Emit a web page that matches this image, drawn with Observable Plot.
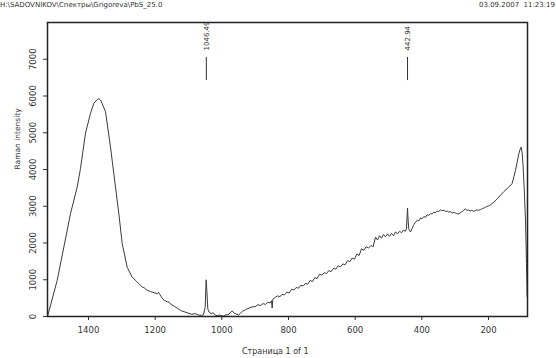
<!DOCTYPE html>
<html><head><meta charset="utf-8">
<script src="https://cdn.jsdelivr.net/npm/d3@7"></script>
<script src="https://cdn.jsdelivr.net/npm/@observablehq/plot@0.6"></script>
<style>
body{margin:0;background:#fff;}
#wrap{position:relative;width:556px;height:358px;overflow:hidden;font-family:"DejaVu Sans",sans-serif;color:#333;}
.t{position:absolute;line-height:1;white-space:nowrap;}
</style></head><body>
<div id="wrap">
<div id="chart" style="position:absolute;left:0;top:0"></div>
<div class="t" style="left:0;top:2px;font-size:7px;">H:\SADOVNIKOV\Спектры\Grigoreva\PbS_25.0</div>
<div class="t" style="right:1px;top:2px;font-size:7px;">03.09.2007&nbsp;&nbsp;11:23:19</div>
<div class="t" style="left:242px;top:348px;font-size:8px;">Страница 1 of 1</div>
</div>
<script>
const wavenumber = [1523,1494,1464,1454,1434,1424,1409,1394,1384,1374,1369,1364,1357,1349,1334,1319,1309,1299,1284,1269,
  1256,1250,1244,1238,1232,1226,1220,1214,1208,1200,1194,1190,1186,1182,1176,1170,1164,1158,1152,1146,1140,1134,1128,1120,1110,1100,1090,1080,1070,1060,
  1055,1050,1047,1045,1042,1038,1032,1026,1020,1014,1008,1000,994,988,982,975,969,963,957,950,944,938,932,926,918,910,
  900,892,884,876,869,862,855,851,849,847,840,833,826,819,812,805,798,791,784,777,770,763,756,749,742,735,728,721,714,707,700,
  693,686,679,672,665,658,651,644,637,630,623,616,609,602,595,588,581,574,567,560,553,546,539,533,527,521,515,509,503,497,491,485,
  479,473,467,461,455,449,446,443,441,439,434,429,424,419,414,409,404,399,394,389,384,379,374,369,364,359,354,349,344,339,334,329,
  324,319,314,308,302,296,290,285,280,275,270,265,260,255,250,245,240,235,230,224,218,212,206,200,194,
  184,174,164,154,144,136,129,124,119,114,109,104,102,99,96,92,89,86,84];
const intensity = [0,980,2340,2800,3520,4030,4990,5530,5800,5900,5930,5890,5750,5570,4610,3520,2800,1990,1340,1070,
  960,900,845,800,780,720,700,680,660,640,620,660,600,540,460,430,400,390,320,300,260,230,190,150,120,90,60,80,40,30,
  50,250,1000,700,200,120,80,100,40,20,40,20,10,50,40,100,150,90,70,40,90,140,170,200,230,260,
  270,320,300,350,330,390,370,430,230,470,520,560,540,600,590,660,640,740,720,790,770,850,830,900,880,980,950,1060,1030,1150,1130,
  1190,1170,1250,1220,1310,1290,1380,1350,1430,1410,1520,1490,1590,1560,1700,1660,1840,1800,1900,1860,1930,1900,2160,2080,2200,2130,2230,2170,2250,2180,2260,2200,
  2300,2250,2320,2280,2350,2320,2400,2950,2600,2380,2300,2400,2500,2560,2620,2600,2680,2660,2720,2700,2770,2750,2800,2790,2840,2820,2870,2860,2900,2880,2890,2860,
  2870,2840,2850,2820,2830,2800,2790,2820,2850,2880,2930,2890,2900,2870,2890,2860,2880,2900,2890,2910,2940,2960,2990,3010,3040,
  3110,3200,3300,3400,3480,3550,3620,3800,3980,4200,4430,4580,4610,4450,4070,3300,2620,1440,540];
const peakPositions = [1046.49, 442.94];
const peakLabels = ["1046.49", "442.94"];
const xTicks = [1400,1200,1000,800,600,400,200];
const yTicks = [0,1000,2000,3000,4000,5000,6000,7000];

const data = wavenumber.map((w,i)=>({w, v: intensity[i]}));
const peaks = peakPositions.map((p,i)=>({p, label: peakLabels[i]}));

const chart = Plot.plot({
  width: 556, height: 358,
  marginTop: 22, marginLeft: 47, marginRight: 29, marginBottom: 42,
  style: {fontFamily: "DejaVu Sans, sans-serif", fontSize: "8.5px", color: "#333", background: "transparent"},
  x: {domain: [1523, 83]},
  y: {domain: [0, 8000]},
  marks: [
    Plot.axisX({ticks: xTicks, tickSize: 4, tickPadding: 6, label: null, tickFormat: d => String(d), stroke: "#333"}),
    Plot.axisY({ticks: yTicks, tickSize: 4, tickFormat: () => "", label: null, stroke: "#333"}),
    Plot.text(yTicks, {y: d => d, frameAnchor: "left", text: d => String(d), rotate: -90, dx: -14, textAnchor: "middle", fill: "#333"}),
    Plot.text(["Raman intensity"], {frameAnchor: "left", rotate: -90, dx: -30, fontSize: 7.5, fill: "#333"}),
    Plot.line(data, {x: "w", y: "v", stroke: "#3a3a3a", strokeWidth: 1}),
    Plot.ruleX(peaks, {x: "p", y1: () => 6420, y2: () => 7050, stroke: "#333", strokeWidth: 1}),
    Plot.text(peaks, {x: "p", y: () => 7240, text: "label", rotate: -90, textAnchor: "start", fontSize: 7, fill: "#333"}),
    Plot.frame({stroke: "#222", strokeWidth: 1.5})
  ]
});
document.getElementById("chart").appendChild(chart);
</script>
</body></html>
